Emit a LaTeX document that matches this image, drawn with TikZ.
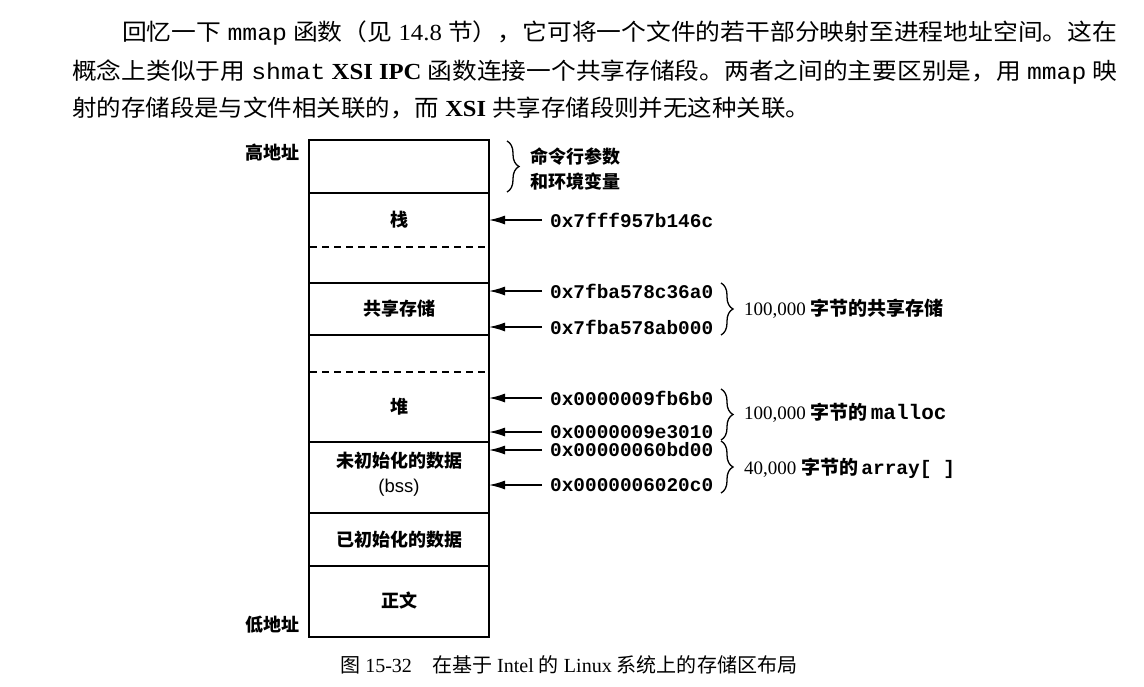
\documentclass[tikz,border=0pt]{standalone}
\usepackage{fontspec}
\usepackage{graphicx}
\setmainfont{Liberation Serif}
\setsansfont{Liberation Sans}
\newfontfamily\cjk{Noto Sans CJK SC}
\newfontfamily\mono{Liberation Mono}
\usetikzlibrary{decorations.pathreplacing,arrows.meta}
\newcommand\zh[1]{{\cjk #1}}
\newcommand\mo[1]{{\mono #1}}
\begin{document}
\begin{tikzpicture}[x=1pt,y=-1pt,
  boxline/.style={line width=1.4pt},
  dashln/.style={line width=1.4pt, dash pattern=on 7pt off 5pt},
  lbl/.style={inner sep=0pt, font=\fontsize{18pt}{21pt}\selectfont\cjk\bfseries},
  side/.style={inner sep=0pt, font=\fontsize{18pt}{21pt}\selectfont\cjk\bfseries},
  addr/.style={anchor=west, inner sep=0pt, font=\fontsize{19.4pt}{21pt}\selectfont\mono\bfseries},
  arr/.style={line width=1.4pt, -{Latex[length=16pt,width=9pt]}},
  brc/.style={line width=1.3pt, decorate, decoration={brace, amplitude=12pt, aspect=0.5}},
  note/.style={anchor=west, inner sep=0pt, font=\fontsize{19pt}{21pt}\selectfont},
  para/.style={anchor=west, inner sep=0pt, font=\fontsize{23pt}{28pt}\selectfont}
]
\useasboundingbox[fill=white] (0,0) rectangle (1144,686);

% paragraph
\node[para] (l1) at (122,33) {\resizebox{995pt}{\height}{\zh{回忆一下} \mo{mmap} \zh{函数（见} 14.8 \zh{节），它可将一个文件的若干部分映射至进程地址空间。这在}}};
\node[para] (l2) at (72,72) {\resizebox{1045pt}{\height}{\zh{概念上类似于用} \mo{shmat} \textbf{XSI IPC} \zh{函数连接一个共享存储段。两者之间的主要区别是，用} \mo{mmap} \zh{映}}};
\node[para] (l3) at (72,108) {\resizebox{738pt}{\height}{\zh{射的存储段是与文件相关联的，而} \textbf{XSI} \zh{共享存储段则并无这种关联。}}};

% memory box
\draw[boxline] (309,140) rectangle (489,637);
\foreach \yy in {193,283,335,442,513,566} \draw[boxline] (309,\yy) -- (489,\yy);
\foreach \yy in {247,372} \draw[dashln] (310,\yy) -- (488,\yy);

\node[side, anchor=east] (hi) at (300,153) {高地址};
\node[side, anchor=east] (lo) at (300,625) {低地址};

\node[lbl] (stack) at (399,220) {栈};
\node[lbl] (shm) at (399,309) {共享存储};
\node[lbl] (heap) at (399,407) {堆};
\node[lbl] (bss1) at (399,461) {未初始化的数据};
\node[inner sep=0pt, font=\fontsize{18.5pt}{21pt}\selectfont\sffamily] (bss2) at (399,488) {(bss)};
\node[lbl] (data) at (399,540) {已初始化的数据};
\node[lbl] (text) at (399,601) {正文};

% top brace
\draw[brc] (507,141) -- (507,192);
\node[side, anchor=west] (env1) at (530,157) {命令行参数};
\node[side, anchor=west] (env2) at (530,182) {和环境变量};

% arrow targets
\coordinate (p1) at (489,220);
\coordinate (p2) at (489,291);
\coordinate (p3) at (489,327);
\coordinate (p4) at (489,398);
\coordinate (p5) at (489,432);
\coordinate (p6) at (489,450);
\coordinate (p7) at (489,485);

\node[addr] (a1) at (550,220) {0x7fff957b146c};
\node[addr] (a2) at (550,291) {0x7fba578c36a0};
\node[addr] (a3) at (550,327) {0x7fba578ab000};
\node[addr] (a4) at (550,398) {0x0000009fb6b0};
\node[addr] (a5) at (550,432) {0x0000009e3010};
\node[addr] (a6) at (550,450) {0x00000060bd00};
\node[addr] (a7) at (550,485) {0x0000006020c0};

\foreach \i in {1,...,7} \draw[arr] ([xshift=-8pt]a\i.west) -- (p\i);

% right braces
\draw[brc] (721,283) -- (721,335);
\draw[brc] (721,389) -- (721,440);
\draw[brc] (721,441) -- (721,493);

\node[note] (n1) at (744,309) {100,000 \zh{\bfseries 字节的共享存储}};
\node[note] (n2) at (744,413) {100,000 \zh{\bfseries 字节的}\,{\fontsize{21pt}{21pt}\selectfont\mono\bfseries malloc}};
\node[note] (n3) at (744,468) {40,000 \zh{\bfseries 字节的}\,{\fontsize{19.5pt}{21pt}\selectfont\mono\bfseries array[ ]}};

% caption
\node[anchor=west, inner sep=0pt, font=\fontsize{20pt}{24pt}\selectfont] (cap) at (340,665) {\resizebox{457pt}{\height}{\zh{图} 15-32\quad \zh{在基于} Intel \zh{的} Linux \zh{系统上的存储区布局}}};
\end{tikzpicture}
\end{document}
